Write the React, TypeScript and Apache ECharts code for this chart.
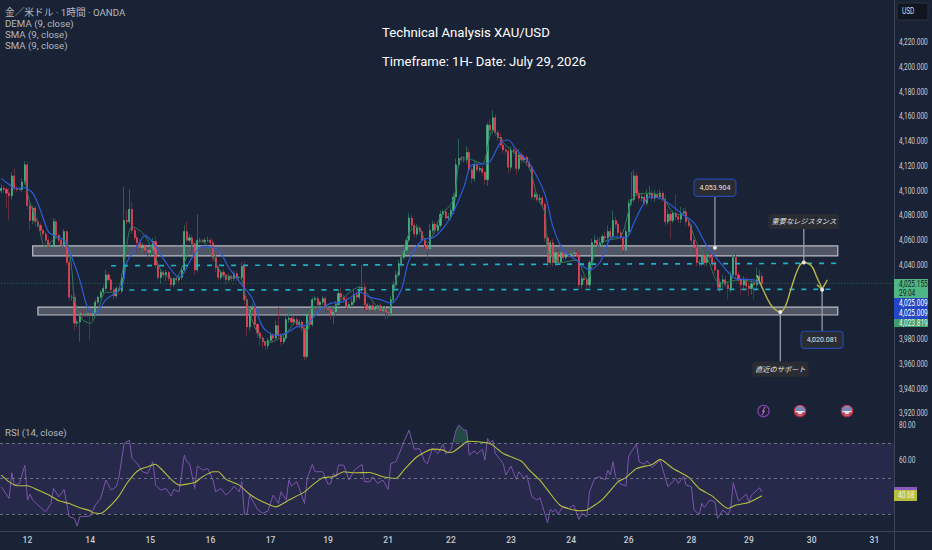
import React, { useEffect, useRef } from "react";
import * as echarts from "echarts";

const titleLines = ["Technical Analysis XAU/USD", "Timeframe: 1H- Date: July 29, 2026"];
const legendLines = ["金／米ドル · 1時間 · OANDA", "DEMA (9, close)", "SMA (9, close)", "SMA (9, close)"];
const priceTicks = [4220, 4200, 4180, 4160, 4140, 4120, 4100, 4080, 4060, 4040, 3980, 3960, 3940, 3920];
const rsiTicks = [80, 60];

const slotCount = 342;
const dayTicks: [number, string][] = [
  [10, "12"], [34, "14"], [57, "15"], [80, "16"], [103, "17"], [125, "19"], [148, "21"], [172, "22"],
  [195, "23"], [218, "24"], [240, "26"], [264, "28"], [286, "29"], [310, "30"], [334, "31"],
];

const closes = [
  4102, 4101, 4098, 4096, 4112, 4102, 4101, 4101, 4107, 4121,
  4088, 4076, 4086, 4075, 4072, 4068, 4065, 4060, 4055, 4055,
  4075, 4064, 4060, 4056, 4067, 4042, 4014, 4014, 3993, 3994,
  4001, 4000, 4000, 4001, 3999, 4001, 4010, 4014, 4018, 4021,
  4032, 4028, 4020, 4015, 4021, 4019, 4030, 4076, 4075, 4085,
  4068, 4062, 4058, 4054, 4056, 4052, 4050, 4052, 4059, 4040,
  4030, 4034, 4032, 4034, 4029, 4024, 4029, 4028, 4030, 4036,
  4067, 4060, 4062, 4057, 4036, 4060, 4060, 4059, 4060, 4060,
  4058, 4046, 4038, 4030, 4034, 4032, 4028, 4031, 4029, 4033,
  4030, 4030, 4039, 4012, 3990, 4004, 4006, 3992, 3985, 3981,
  3978, 3975, 3979, 3983, 3981, 3991, 3983, 3978, 3981, 3996,
  3997, 3994, 3996, 3992, 3994, 3989, 3966, 4000, 3992, 4012,
  4013, 4008, 4010, 4013, 4005, 4004, 4000, 4002, 4008, 4017,
  4014, 4012, 4006, 4008, 4010, 4016, 4014, 4020, 4022, 4008,
  4004, 4007, 4004, 4005, 4007, 4003, 4005, 4002, 4001, 4012,
  4024, 4032, 4041, 4046, 4052, 4060, 4078, 4072, 4065, 4070,
  4067, 4060, 4056, 4053, 4068, 4073, 4068, 4072, 4081, 4083,
  4078, 4079, 4084, 4095, 4121, 4126, 4125, 4125, 4131, 4117,
  4110, 4121, 4117, 4118, 4115, 4109, 4153, 4149, 4159, 4147,
  4143, 4137, 4133, 4132, 4119, 4133, 4132, 4118, 4129, 4125,
  4127, 4123, 4119, 4095, 4097, 4093, 4094, 4089, 4062, 4042,
  4058, 4042, 4050, 4042, 4050, 4046, 4049, 4048, 4049, 4050,
  4048, 4024, 4029, 4028, 4024, 4042, 4058, 4060, 4056, 4058,
  4063, 4062, 4067, 4063, 4076, 4073, 4066, 4062, 4052, 4067,
  4090, 4093, 4112, 4098, 4094, 4095, 4090, 4097, 4098, 4094,
  4097, 4095, 4098, 4093, 4075, 4081, 4076, 4082, 4079, 4077,
  4082, 4083, 4075, 4072, 4060, 4054, 4042, 4042, 4048, 4042,
  4048, 4046, 4042, 4036, 4022, 4026, 4028, 4024, 4021, 4032,
  4046, 4032, 4028, 4024, 4028, 4023, 4021, 4025, 4024, 4028,
  4031, 4025.155,
];
const firstOpen = 4100;

const upWick = [
  3, 2, 2, 4, 3, 6, 2, 1, 3, 3, 2, 3, 2, 2, 3, 2, 1, 2, 2, 3,
  3, 2, 1, 2, 2, 1, 4, 2, 3, 2, 2, 3, 2, 1, 2, 2, 2, 1, 2, 3,
  4, 2, 1, 2, 2, 1, 3, 27, 8, 16, 6, 3, 2, 3, 2, 1, 2, 2, 3, 4,
  3, 2, 1, 2, 1, 2, 1, 2, 2, 2, 5, 8, 3, 2, 2, 21, 2, 1, 2, 3,
  2, 3, 2, 1, 2, 3, 1, 2, 1, 2, 2, 1, 3, 4, 3, 2, 3, 2, 1, 2,
  2, 1, 2, 3, 2, 4, 15, 2, 2, 3, 8, 2, 3, 2, 2, 1, 2, 3, 2, 2,
  2, 2, 1, 2, 2, 2, 1, 2, 3, 3, 5, 2, 3, 2, 3, 5, 3, 3, 18, 4,
  2, 2, 3, 2, 1, 2, 2, 1, 2, 3, 3, 3, 3, 5, 3, 2, 4, 3, 2, 3,
  2, 2, 2, 1, 5, 3, 2, 3, 3, 2, 2, 3, 3, 3, 5, 16, 2, 3, 5, 3,
  2, 4, 3, 2, 2, 1, 2, 5, 6, 3, 2, 3, 5, 2, 2, 3, 2, 3, 5, 3,
  2, 2, 3, 2, 2, 2, 3, 2, 2, 3, 2, 3, 2, 2, 2, 1, 2, 1, 1, 2,
  2, 2, 3, 2, 2, 2, 3, 4, 3, 4, 2, 4, 5, 3, 8, 3, 2, 2, 2, 4,
  3, 22, 5, 3, 2, 3, 2, 4, 6, 3, 4, 3, 3, 2, 3, 4, 2, 2, 15, 2,
  5, 3, 3, 2, 2, 2, 2, 2, 4, 3, 3, 2, 2, 2, 1, 3, 4, 3, 3, 3,
  3, 3, 2, 2, 3, 2, 3, 3, 3, 10, 5, 3,
];
const downWick = [
  2, 3, 12, 20, 3, 2, 2, 1, 2, 2, 3, 8, 3, 4, 2, 4, 2, 3, 2, 2,
  2, 3, 3, 2, 2, 2, 3, 3, 6, 3, 16, 3, 2, 2, 20, 3, 2, 2, 1, 2,
  2, 2, 2, 3, 2, 3, 2, 2, 2, 2, 3, 2, 8, 2, 4, 2, 5, 3, 2, 3,
  2, 5, 2, 5, 2, 3, 2, 2, 2, 2, 2, 2, 2, 8, 4, 2, 2, 1, 2, 2,
  2, 3, 4, 2, 2, 3, 4, 2, 3, 2, 3, 2, 2, 4, 8, 3, 2, 3, 4, 6,
  5, 4, 3, 2, 3, 2, 3, 3, 2, 2, 3, 2, 2, 2, 3, 3, 3, 2, 3, 2,
  2, 3, 2, 2, 3, 2, 4, 8, 3, 2, 2, 3, 2, 3, 2, 3, 3, 2, 2, 5,
  2, 3, 2, 2, 3, 2, 3, 6, 4, 3, 3, 2, 2, 3, 2, 3, 2, 3, 3, 2,
  3, 2, 3, 9, 3, 2, 3, 2, 2, 3, 2, 2, 3, 3, 3, 3, 2, 2, 3, 3,
  4, 3, 2, 2, 3, 4, 5, 3, 3, 3, 3, 3, 3, 3, 5, 3, 2, 5, 2, 3,
  2, 3, 2, 3, 2, 2, 3, 2, 3, 4, 2, 3, 3, 3, 2, 2, 2, 2, 2, 2,
  2, 3, 3, 2, 3, 3, 2, 2, 3, 3, 3, 2, 3, 2, 2, 3, 3, 2, 3, 2,
  3, 2, 2, 3, 3, 3, 2, 2, 3, 2, 3, 2, 2, 2, 3, 2, 15, 2, 3, 3,
  3, 2, 3, 2, 4, 3, 3, 3, 3, 3, 3, 3, 3, 3, 3, 4, 6, 3, 9, 3,
  3, 4, 3, 8, 3, 4, 6, 5, 12, 4, 4, 4,
];

const smaLine: [number, number][] = [
  [0, 4110], [3, 4105], [5, 4102], [7, 4102], [8, 4103], [12, 4098], [15, 4084], [18, 4067], [21, 4063], [24, 4060],
  [27, 4046], [30, 4028], [33, 4006], [36, 4001], [40, 4012], [46, 4022], [48, 4042], [52, 4055], [55, 4064], [59, 4055],
  [63, 4042], [68, 4030], [73, 4046], [77, 4055], [83, 4052], [87, 4038], [92, 4024], [96, 4013], [100, 3990], [105, 3983],
  [109, 3985], [113, 3990], [117, 3992], [122, 4004], [126, 4009], [130, 4010], [133, 4013], [137, 4018], [141, 4014], [145, 4012],
  [149, 4009], [153, 4020], [156, 4044], [161, 4060], [166, 4063], [172, 4079], [177, 4103], [180, 4121], [186, 4122], [191, 4139],
  [194, 4141], [197, 4133], [202, 4122], [208, 4097], [211, 4071], [215, 4052], [220, 4044], [225, 4036], [229, 4042], [234, 4063],
  [239, 4062], [242, 4074], [245, 4087], [248, 4095], [253, 4093], [260, 4082], [265, 4074], [270, 4055], [275, 4042], [281, 4029],
  [288, 4028], [290, 4025], [291, 4024],
];
const demaLine: [number, number][] = [
  [9, 4109], [11, 4090], [14, 4074], [17, 4054], [21, 4062], [25, 4059], [27, 4036], [28, 4012], [31, 3996], [34, 3993],
  [37, 4004], [40, 4018], [44, 4018], [47, 4042], [50, 4071], [54, 4066], [58, 4052], [61, 4036], [66, 4028], [70, 4042],
  [73, 4056], [77, 4059], [81, 4046], [86, 4030], [91, 4030], [94, 4009], [98, 3985], [102, 3977], [105, 3979], [109, 3985],
  [113, 3994], [117, 3987], [119, 4006], [127, 4006], [131, 4014], [137, 4022], [144, 4006], [148, 4004], [151, 4028], [156, 4066],
  [159, 4071], [163, 4058], [168, 4079], [173, 4093], [176, 4127], [180, 4125], [184, 4122], [188, 4149], [192, 4139], [198, 4127],
  [202, 4119], [205, 4095], [208, 4082], [209, 4052], [214, 4042], [220, 4044], [224, 4028], [228, 4055], [232, 4060], [237, 4063],
  [242, 4095], [248, 4098], [253, 4095], [257, 4082], [262, 4079], [266, 4058], [270, 4046], [275, 4025], [283, 4028], [290, 4025],
];

const forecastCurve: [number, number][] = [
  [289, 4032], [291, 4022], [294, 4009], [296, 4004], [298, 4002], [300, 4007], [302, 4020],
  [305, 4038], [307, 4042], [310, 4039], [312, 4030], [314, 4021],
];
const forecastArrow: [number, number][] = [[312, 4024], [314, 4020.5], [316, 4028]];

const upperZone = { from: 12, to: 320, top: 4055.4, bottom: 4047.3 };
const lowerZone = { from: 14, to: 320, top: 4006, bottom: 3999.6 };
const upperDash: [number, number][] = [[42, 4039.4], [320, 4041.4]];
const lowerDash: [number, number][] = [[49, 4019.8], [318, 4020.4]];
const lastPrice = 4025.155;

const rsiLine: [number, number][] = [
  [0, 45.4], [3, 38.8], [4, 53.2], [5, 46.3], [7, 47.2], [9, 57.5], [10, 37.9], [11, 41.2], [12, 37.9], [15, 33.8],
  [17, 31.3], [19, 36], [20, 44.4], [22, 39.7], [24, 43.9], [26, 28.5], [28, 27.6], [29, 23.3], [30, 28.5], [34, 28.9],
  [36, 35.1], [38, 38.8], [40, 49.1], [42, 43.5], [44, 45.4], [45, 51], [47, 69.6], [49, 71.5], [50, 61.2], [52, 58.4],
  [54, 53.8], [56, 52.8], [58, 59.4], [59, 46.3], [61, 43.5], [63, 44.4], [65, 40.1], [66, 43.9], [68, 42.5], [70, 63.1],
  [71, 59.4], [72, 58.4], [74, 44.4], [75, 57.1], [77, 54.7], [79, 55.6], [81, 49.1], [82, 42.5], [84, 44.4], [86, 40.7],
  [88, 43.5], [89, 45.7], [91, 42.5], [92, 48.2], [93, 30], [94, 30], [95, 40.7], [98, 32.7], [100, 30.4], [102, 31.9],
  [104, 40.7], [106, 36], [107, 42.5], [109, 37.9], [110, 49.1], [111, 45.9], [113, 48.2], [114, 44.4], [116, 36], [117, 50],
  [119, 58], [120, 53.8], [123, 53.8], [125, 46.8], [126, 47.2], [127, 52.8], [128, 51], [129, 57.5], [131, 57.5], [133, 49.1],
  [135, 54.7], [138, 57.9], [139, 48.2], [141, 48.2], [142, 51], [144, 47.2], [146, 49.1], [148, 43.9], [149, 58.4], [151, 59.4],
  [153, 66.8], [154, 70.6], [156, 77.1], [158, 66.3], [160, 66.8], [162, 59.4], [163, 58.4], [165, 66.8], [167, 64], [169, 69.3],
  [170, 64], [172, 65.9], [174, 77.1], [175, 79.9], [177, 77.1], [178, 77.1], [179, 63.1], [181, 65.5], [182, 63.7], [184, 66.3],
  [185, 60.3], [186, 72.4], [187, 70], [188, 71.5], [189, 64], [192, 58.4], [193, 51.9], [195, 56.9], [197, 49.5], [198, 53.8],
  [200, 50], [201, 51.9], [203, 39.7], [205, 37.9], [206, 39.4], [209, 25.2], [210, 32.7], [211, 31.3], [212, 32.7], [213, 30],
  [215, 34.5], [217, 33.2], [219, 35.1], [221, 27], [222, 30.4], [224, 28.5], [225, 42.5], [227, 50], [229, 51], [231, 49.1],
  [232, 54.7], [233, 51.9], [234, 59.4], [235, 51], [237, 46.8], [239, 45.9], [240, 62.5], [241, 65], [243, 69.3], [244, 59.4],
  [246, 58], [247, 59.9], [249, 56.2], [252, 60.3], [255, 45.4], [258, 50], [259, 47.2], [261, 51], [262, 46.3], [264, 45.4],
  [265, 32.3], [267, 29.9], [268, 36], [269, 33.8], [271, 37.9], [273, 36.9], [274, 27.6], [275, 30], [276, 32.3], [278, 29.9],
  [279, 32.7], [280, 47.6], [282, 37.3], [285, 41.2], [286, 36.6], [287, 40.7], [290, 44.8], [291, 42.5],
];
const rsiSignal: [number, number][] = [
  [0, 51.9], [3, 48.1], [6, 45.9], [10, 45.9], [14, 43.5], [19, 40.1], [22, 37.5], [26, 36], [30, 33.6], [34, 31.9],
  [35, 30.8], [38, 30.4], [42, 35.1], [45, 40.1], [48, 47.2], [51, 52.8], [53, 55.1], [56, 56.6], [59, 58], [61, 55.6],
  [65, 49.5], [68, 46.3], [74, 47.8], [77, 51], [81, 53.8], [83, 53.8], [86, 49.5], [91, 46.3], [95, 41.2], [100, 36.9],
  [105, 34.1], [110, 37.9], [116, 42.5], [119, 46.3], [123, 50.4], [127, 51], [131, 53.8], [135, 53.2], [141, 53.4], [146, 51],
  [151, 50], [154, 54.7], [159, 62.2], [165, 66.5], [169, 65.9], [171, 64.6], [173, 65], [178, 70.6], [179, 70.9], [186, 70],
  [188, 68.7], [192, 64], [199, 59.7], [202, 54.7], [206, 49.1], [209, 43.5], [214, 34.7], [221, 31.9], [224, 32.3], [230, 38.3],
  [236, 48.2], [239, 50.6], [243, 55.6], [249, 57.9], [252, 60.7], [257, 55.6], [263, 50.6], [267, 44.4], [272, 40.1], [278, 33.2],
  [281, 35.1], [286, 36.6], [291, 40.3],
];
const rsiOverbought: [number, number][] = [[173, 70], [174, 77.1], [175, 79.9], [177, 77.1], [178, 77.1], [179, 70]];
const rsiLevels = [70, 50, 30];

const priceTags = [
  { top: 279, height: 19, fill: "#4fb584" },
  { top: 298, height: 10, fill: "#2547c5" },
  { top: 308, height: 11, fill: "#2547c5" },
  { top: 319, height: 8, fill: "#3f9e6a" },
];
const priceTagTexts = [
  { text: "4,025.155", y: 284, color: "#10231d" },
  { text: "29:04", y: 293, color: "#10231d" },
  { text: "4,025.009", y: 303, color: "#ffffff" },
  { text: "4,025.009", y: 313.5, color: "#ffffff" },
  { text: "4,023.819", y: 323, color: "#e8f5ee" },
];

const BG = "#1a2335";
const TEXT = "#c9ccd3";
const FONT = "Roboto, 'Noto Sans CJK JP', sans-serif";
const NARROW = 0.78;

function connector(anchorX: number, anchorP: number, endP: number, text: string, pos: "top" | "bottom", boxed: boolean) {
  return {
    type: "line",
    z: 8,
    xAxisIndex: 0,
    yAxisIndex: 0,
    symbol: "circle",
    symbolSize: 4,
    showAllSymbol: true,
    itemStyle: { color: "#e6e8ec" },
    lineStyle: { color: "#9ea3ad", width: 1.2 },
    data: [
      { value: [anchorX, anchorP] },
      {
        value: [anchorX, endP],
        symbolSize: 0,
        label: {
          show: true,
          position: pos,
          distance: 0,
          formatter: text,
          color: "#e4e6ea",
          fontFamily: FONT,
          fontSize: boxed ? 7 : 7.2,
          fontStyle: boxed ? "normal" : "italic",
          backgroundColor: "#2a2c33",
          borderColor: boxed ? "#2348b0" : "#2a2c33",
          borderWidth: boxed ? 1.2 : 0,
          borderRadius: 3,
          padding: boxed ? [4.5, 5] : [4, 3],
        },
      },
    ],
  };
}

function flagIcon(cx: number, cy: number) {
  return {
    type: "group",
    z: 100,
    children: [
      { type: "circle", shape: { cx, cy, r: 5.6 }, style: { fill: "#dfe4ea", stroke: "#b32d45", lineWidth: 1.4 } },
      { type: "sector", shape: { cx, cy, r: 4.8, r0: 0, startAngle: Math.PI, endAngle: 2 * Math.PI }, style: { fill: "#6f88b5" } },
      { type: "sector", shape: { cx, cy, r: 4.8, r0: 3.2, startAngle: 0.25, endAngle: Math.PI - 0.25 }, style: { fill: "#c8455a" } },
    ],
  };
}

function axisText(text: string, y: number, fill = TEXT, x = 899) {
  return {
    type: "text", z: 101, x, y, scaleX: NARROW,
    style: { text, fill, font: `8.4px ${FONT}`, verticalAlign: "middle" },
  };
}

export default function App() {
  const ref = useRef<HTMLDivElement>(null);
  useEffect(() => {
    document.body.style.margin = "0";
    document.body.style.background = BG;
    const chart = echarts.init(ref.current!, undefined, { renderer: "svg" });

    const categories = Array.from({ length: slotCount }, () => "");
    dayTicks.forEach(([i, t]) => (categories[i] = t));
    const tickSet = new Set(dayTicks.map((d) => d[0]));

    const opens = closes.map((_, i) => (i === 0 ? firstOpen : closes[i - 1]));
    const wickData = closes.map((c, i) => [
      opens[i], c,
      Math.min(opens[i], c) - downWick[i],
      Math.max(opens[i], c) + upWick[i],
    ]);
    const bodyData = closes.map((c, i) => [opens[i], c, Math.min(opens[i], c), Math.max(opens[i], c)]);

    const textItems = [
      ...legendLines.map((t, i) => ({
        type: "text", z: 100, x: 5, y: 7.5 + i * 11.2,
        style: { text: t, fill: "#b4b7bf", font: `9.7px ${FONT}` },
      })),
      { type: "text", z: 100, x: 5, y: 427.5, style: { text: "RSI (14, close)", fill: "#b4b7bf", font: `9.7px ${FONT}` } },
      { type: "text", z: 100, x: 382, y: 25.5, style: { text: titleLines[0], fill: "#ffffff", font: `13.2px ${FONT}` } },
      { type: "text", z: 100, x: 382, y: 54.5, style: { text: titleLines[1], fill: "#ffffff", font: `13.1px ${FONT}` } },
    ];

    const tagItems = [
      ...priceTags.map((t) => ({
        type: "rect", z: 100, shape: { x: 894, y: t.top, width: 34, height: t.height }, style: { fill: t.fill },
      })),
      ...priceTagTexts.map((t) => axisText(t.text, t.y, t.color)),
    ];

    chart.setOption({
      animation: false,
      backgroundColor: BG,
      textStyle: { fontFamily: FONT },
      grid: [
        { left: 0, top: 17.5, width: 894, height: 396, outerBoundsMode: "none" },
        { left: 0, top: 425, width: 894, height: 107, outerBoundsMode: "none" },
      ],
      xAxis: [
        { type: "category", gridIndex: 0, data: categories, show: false, boundaryGap: true },
        {
          type: "category", gridIndex: 1, data: categories, boundaryGap: true,
          axisLine: { show: false }, axisTick: { show: false },
          axisLabel: {
            interval: (i: number) => tickSet.has(i),
            color: TEXT, fontSize: 8.5, fontWeight: 500, margin: 4, hideOverlap: false,
          },
          splitLine: { show: false },
        },
      ],
      yAxis: [
        {
          type: "value", gridIndex: 0, position: "right", min: 3920, max: 4240, interval: 20,
          axisLine: { show: false }, axisTick: { show: false }, splitLine: { show: false },
          axisLabel: { show: false },
        },
        {
          type: "value", gridIndex: 1, position: "right", min: 20, max: 80, interval: 20,
          axisLine: { show: false }, axisTick: { show: false }, splitLine: { show: false },
          axisLabel: { show: false },
        },
      ],
      series: [
        {
          type: "line", data: [[0, lastPrice], [slotCount - 1, lastPrice]], symbol: "none", z: 1,
          lineStyle: { color: "#3f9e6a", width: 0.8, type: [1, 2], opacity: 0.8 },
        },
        {
          name: "wicks", type: "candlestick", data: wickData, barWidth: 1, z: 2,
          itemStyle: { color: "#2f7058", color0: "#74303f", borderColor: "#2f7058", borderColor0: "#74303f", borderWidth: 0.8 },
        },
        {
          name: "bodies", type: "candlestick", data: bodyData, barWidth: 1.6, z: 3,
          itemStyle: { color: "#4dbb86", color0: "#f4475d", borderColor: "#4dbb86", borderColor0: "#f4475d", borderWidth: 0.6 },
        },
        {
          name: "DEMA", type: "line", data: demaLine, symbol: "none", smooth: 0.3, z: 4,
          lineStyle: { color: "#2f7a58", width: 1 },
        },
        {
          name: "SMA", type: "line", data: smaLine, symbol: "none", smooth: 0.3, z: 4,
          lineStyle: { color: "#2d5bd8", width: 1.2 },
        },
        {
          type: "line", data: [], z: 5,
          markArea: {
            silent: true,
            itemStyle: { color: "rgba(205,205,212,0.3)", borderColor: "#b9bcc4", borderWidth: 1.2 },
            data: [upperZone, lowerZone].map((a) => [
              { coord: [a.from, a.top] },
              { coord: [a.to, a.bottom] },
            ]),
          },
        },
        {
          type: "line", data: upperDash, symbol: "none", z: 6,
          lineStyle: { color: "#1eb0c6", width: 1.7, type: [5, 7] },
        },
        {
          type: "line", data: lowerDash, symbol: "none", z: 6,
          lineStyle: { color: "#1eb0c6", width: 1.7, type: [5, 7] },
        },
        connector(273, 4053.904, 4096, "4,053.904", "top", true),
        connector(307, 4042, 4069, "重要なレジスタンス", "top", false),
        connector(298, 4002, 3962, "直近のサポート", "bottom", false),
        connector(314, 4020.081, 3986, "4,020.081", "bottom", true),
        {
          type: "line", data: forecastCurve, symbol: "none", smooth: 0.4, z: 7,
          lineStyle: { color: "#b7b548", width: 1.4 },
        },
        {
          type: "line", data: forecastArrow, symbol: "none", z: 7,
          lineStyle: { color: "#b7b548", width: 1.4 },
        },
        {
          name: "RSI", type: "line", xAxisIndex: 1, yAxisIndex: 1, data: rsiLine, symbol: "none", z: 3,
          lineStyle: { color: "#7c55ad", width: 1 },
          markArea: {
            silent: true,
            itemStyle: { color: "#26294a" },
            data: [[{ yAxis: 70 }, { yAxis: 30 }]],
          },
          markLine: {
            silent: true, symbol: "none", label: { show: false },
            lineStyle: { color: "#7d8190", width: 0.8, type: [3, 3] },
            data: rsiLevels.map((v) => ({ yAxis: v })),
          },
        },
        {
          type: "line", xAxisIndex: 1, yAxisIndex: 1, data: rsiOverbought, symbol: "none", z: 2,
          lineStyle: { opacity: 0 }, areaStyle: { color: "#244a45", origin: 70, opacity: 1 },
        },
        {
          name: "RSI signal", type: "line", xAxisIndex: 1, yAxisIndex: 1, data: rsiSignal, symbol: "none", z: 4,
          smooth: 0.2, lineStyle: { color: "#b6bf3e", width: 1.1 },
        },
      ],
    });

    const priceLabels = priceTicks.map((v) =>
      axisText(
        v.toLocaleString("en-US", { minimumFractionDigits: 3 }),
        chart.convertToPixel({ yAxisIndex: 0 }, v) as number,
      ),
    );
    const rsiLabels = rsiTicks.map((v) =>
      axisText(v.toFixed(2), chart.convertToPixel({ yAxisIndex: 1 }, v) as number),
    );

    chart.setOption({
      graphic: [
        { type: "line", z: 90, shape: { x1: 894.5, y1: 0, x2: 894.5, y2: 550 }, style: { stroke: "#3a4556", lineWidth: 1 } },
        { type: "line", z: 90, shape: { x1: 0, y1: 531.5, x2: 932, y2: 531.5 }, style: { stroke: "#3a4556", lineWidth: 1 } },
        { type: "rect", z: 100, shape: { x: 897, y: 3, width: 31, height: 17, r: 2 }, style: { fill: "#0f1521", stroke: "#2a3242", lineWidth: 1 } },
        axisText("USD", 11.5, "#d6d8dd", 902),
        ...priceLabels,
        ...rsiLabels,
        ...tagItems,
        { type: "rect", z: 100, shape: { x: 894, y: 487, width: 23, height: 3 }, style: { fill: "#8a5ac0" } },
        { type: "rect", z: 100, shape: { x: 894, y: 490, width: 23, height: 11 }, style: { fill: "#b6bf3e" } },
        axisText("40.68", 495.5, "#f2f4e4", 898),
        { type: "circle", z: 100, shape: { cx: 763.5, cy: 411, r: 5.6 }, style: { fill: "#231d38", stroke: "#7a3fa8", lineWidth: 1.3 } },
        { type: "polyline", z: 101, shape: { points: [[765, 407], [762.5, 411.5], [764.5, 411], [762, 415]] }, style: { stroke: "#b58ad8", lineWidth: 1, fill: "none" } },
        flagIcon(800, 411),
        flagIcon(847, 411),
        ...textItems,
      ],
    });
    return () => chart.dispose();
  }, []);
  return <div ref={ref} style={{ position: "fixed", left: 0, top: 0, width: 932, height: 550 }} />;
}
